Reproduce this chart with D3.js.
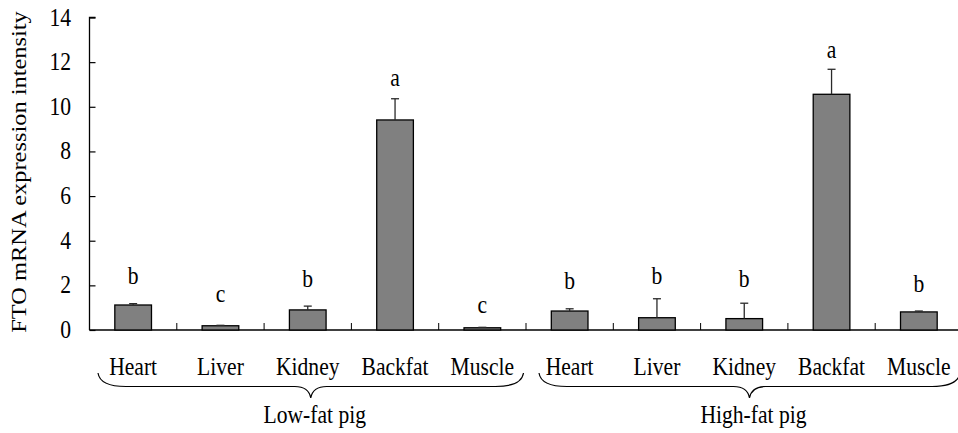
<!DOCTYPE html>
<html><head><meta charset="utf-8">
<script src="https://cdn.jsdelivr.net/npm/d3@7"></script>
<style>body{margin:0;background:#fff}svg{display:block}text{font-family:"Liberation Serif","Times New Roman",serif;fill:#000}</style>
</head><body><svg id="c" width="958" height="433"></svg>
<script>
const tissues = ["Heart","Liver","Kidney","Backfat","Muscle"];
const groups = ["Low-fat pig","High-fat pig"];
const lowMeans = [1.12, 0.19, 0.90, 9.41, 0.10];
const lowErr = [0.06, 0.02, 0.17, 0.95, 0.02];
const highMeans = [0.85, 0.55, 0.51, 10.56, 0.81];
const highErr = [0.10, 0.85, 0.69, 1.12, 0.04];
const lowLetters = ["b","c","b","a","c"];
const highLetters = ["b","b","b","a","b"];
const lowLetterY = [2.06, 1.27, 1.91, 10.93, 0.75];
const highLetterY = [1.85, 2.06, 1.94, 12.2, 1.70];
const yTicks = [0,2,4,6,8,10,12,14];
const yTitle = "FTO mRNA expression intensity";

const rows = [];
[[lowMeans,lowErr,lowLetters,lowLetterY],[highMeans,highErr,highLetters,highLetterY]].forEach((g,gi)=>{
  tissues.forEach((t,i)=>rows.push({id:gi*5+i,group:gi,tissue:t,mean:g[0][i],err:g[1][i],letter:g[2][i],ly:g[3][i]}));
});

const svg = d3.select("#c");
const X0=89.5, X1=962.5, Y0=330, Y1=17.5, SY=1.13, FS=21.6;
const x = d3.scaleBand().domain(rows.map(d=>d.id)).range([X0,X1]).padding(0);
const y = d3.scaleLinear().domain([0,14]).range([Y0,Y1]);
const bw = x.bandwidth()*0.42;
const cx = d=>x(d.id)+x.bandwidth()/2;

function txt(sel, xx, yy, s, anchor){
  return sel.append("text").attr("transform",`translate(${xx},${yy}) scale(1,${SY})`)
    .attr("text-anchor",anchor||"middle").attr("font-size",FS).text(s);
}

// y axis
const ya = svg.append("g").attr("transform",`translate(${X0},0)`)
  .call(d3.axisRight(y).tickValues(yTicks).tickSize(6).tickFormat(""));
ya.select(".domain").attr("stroke","#000").attr("stroke-width",1.3).attr("d",`M6,${Y1}H0V${Y0}`);
ya.selectAll(".tick line").attr("stroke","#000").attr("stroke-width",1.2);
yTicks.forEach(v=>txt(svg,71,y(v)+8,String(v),"end"));

// x axis
const xa = svg.append("g").attr("transform",`translate(0,${Y0})`)
  .call(d3.axisTop(x).tickSize(0).tickFormat(""));
xa.select(".domain").attr("stroke","#000").attr("stroke-width",1.5).attr("d",`M${X0},0H${X1}`);
xa.selectAll(".tick").remove();
rows.slice(1).forEach(d=>{
  svg.append("line").attr("x1",x(d.id)).attr("x2",x(d.id)).attr("y1",Y0).attr("y2",Y0-7)
    .attr("stroke","#000").attr("stroke-width",1);
});

// bars
svg.append("g").selectAll("rect").data(rows).join("rect")
  .attr("x",d=>cx(d)-bw/2).attr("width",bw)
  .attr("y",d=>y(d.mean)).attr("height",d=>Y0-y(d.mean))
  .attr("fill","#808080").attr("stroke","#000").attr("stroke-width",1.3);

// error bars
const eg = svg.append("g").attr("stroke","#2a2a2a").attr("stroke-width",1.3);
rows.forEach(d=>{
  eg.append("line").attr("x1",cx(d)).attr("x2",cx(d)).attr("y1",y(d.mean)).attr("y2",y(d.mean+d.err));
  eg.append("line").attr("x1",cx(d)-4).attr("x2",cx(d)+4).attr("y1",y(d.mean+d.err)).attr("y2",y(d.mean+d.err));
});

// letters
rows.forEach(d=>txt(svg,cx(d),y(d.ly),d.letter));

// category labels
rows.forEach(d=>txt(svg,cx(d),375,d.tissue));

// braces + group labels
groups.forEach((g,gi)=>{
  const ids = rows.filter(d=>d.group===gi).map(d=>d.id);
  const xs = x(ids[0]) + (gi===0?8.5:13), xe = x(ids[ids.length-1])+x.bandwidth() - 2.5;
  const xm = (xs+xe)/2, yT=373, yL=386.5, yTip=398;
  const p = d3.path();
  p.moveTo(xs,yT);
  p.quadraticCurveTo(xs+2,yL,xs+28,yL);
  p.lineTo(xm-16,yL);
  p.quadraticCurveTo(xm-2,yL,xm,yTip);
  p.quadraticCurveTo(xm+2,yL,xm+16,yL);
  p.lineTo(xe-28,yL);
  p.quadraticCurveTo(xe-2,yL,xe,yT);
  svg.append("path").attr("d",p.toString()).attr("fill","none").attr("stroke","#000").attr("stroke-width",1.2);
  txt(svg,xm+4,423,g);
});

// y title
svg.append("text").attr("transform",`translate(26,172) scale(1,${SY}) rotate(-90)`)
  .attr("text-anchor","middle").attr("font-size",FS).text(yTitle);
</script></body></html>
